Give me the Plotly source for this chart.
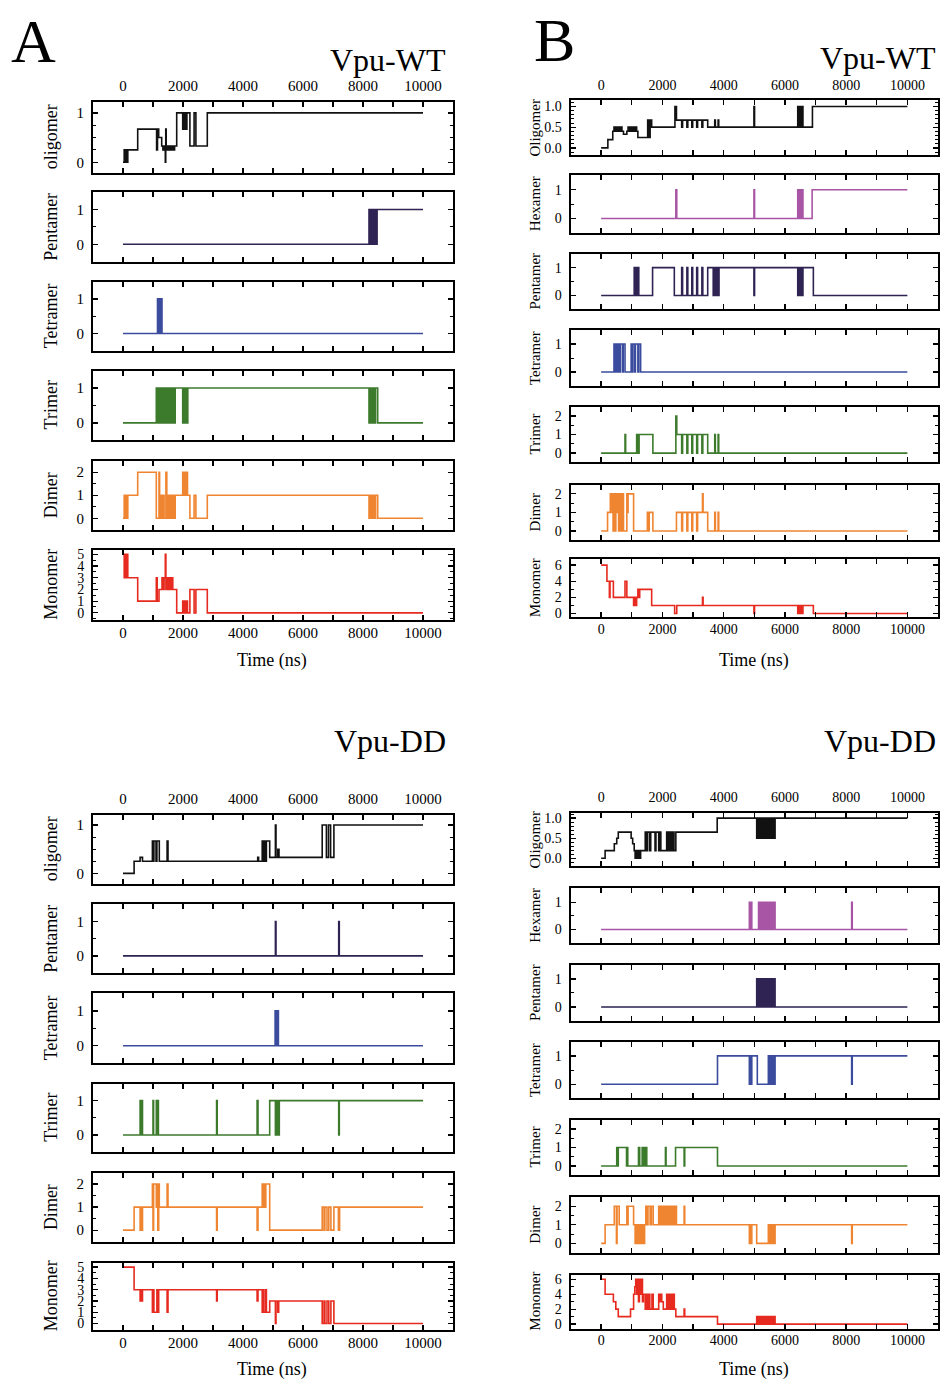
import plotly.graph_objects as go

W, H = 940, 1383
FONT = "Liberation Serif"

# ---------------- DATA (time in ns, step values) ----------------
# Panel A, Vpu-WT
A_WT_oligomer_t = [0, 40, 70, 100, 130, 160, 190, 490, 1120, 1150, 1190, 1290, 1330, 1360, 1410, 1425, 1440, 1480, 1520, 1560, 1600, 1640, 1680, 1720, 1790, 1990, 2010, 2030, 2050, 2070, 2090, 2110, 2130, 2230, 2370, 2430, 2810, 10000]
A_WT_oligomer_v = [0, 0.25, 0, 0.25, 0, 0.25, 0.25, 0.67, 0.25, 0.67, 0.5, 0.33, 0.25, 0.33, 0, 0.67, 0.25, 0.33, 0.25, 0.33, 0.25, 0.33, 0.25, 0.33, 1, 0.67, 1, 0.67, 1, 0.67, 1, 0.67, 1, 0.33, 1, 0.33, 1, 1]
A_WT_pentamer_t = [0, 8200, 8230, 8260, 8290, 8330, 8360, 8400, 8430, 8470, 10000]
A_WT_pentamer_v = [0, 1, 0, 1, 0, 1, 0, 1, 0, 1, 1]
A_WT_tetramer_t = [0, 1150, 1180, 1200, 1240, 1260, 1300, 10000]
A_WT_tetramer_v = [0, 1, 0, 1, 0, 1, 0, 0]
A_WT_trimer_t = [0, 1110, 1140, 1170, 1200, 1230, 1260, 1290, 1330, 1370, 1400, 1440, 1480, 1520, 1560, 1600, 1640, 1680, 1720, 1740, 1990, 2020, 2060, 2100, 2130, 2160, 8200, 8240, 8280, 8330, 8380, 8420, 8490, 10000]
A_WT_trimer_v = [0, 1, 0, 1, 0, 1, 0, 1, 0, 1, 0, 1, 0, 1, 0, 1, 0, 1, 0, 1, 0, 1, 0, 1, 0, 1, 0, 1, 0, 1, 0, 1, 0, 0]
A_WT_dimer_t = [0, 40, 70, 100, 130, 160, 190, 490, 1110, 1200, 1220, 1260, 1290, 1330, 1370, 1430, 1460, 1500, 1540, 1580, 1620, 1660, 1700, 1740, 1990, 2020, 2050, 2090, 2120, 2150, 2230, 2370, 2430, 2810, 8200, 8240, 8280, 8330, 8380, 8420, 8490, 10000]
A_WT_dimer_v = [0, 1, 0, 1, 0, 1, 1, 2, 0, 2, 0, 1, 0, 1, 0, 2, 0, 1, 0, 1, 0, 1, 0, 1, 2, 1, 2, 1, 2, 1, 0, 1, 0, 1, 0, 1, 0, 1, 0, 1, 0, 0]
A_WT_monomer_t = [0, 40, 70, 100, 130, 160, 190, 490, 1110, 1140, 1200, 1300, 1330, 1370, 1410, 1430, 1460, 1500, 1540, 1580, 1620, 1660, 1790, 1990, 2020, 2050, 2090, 2120, 2150, 2230, 2370, 2430, 2810, 10000]
A_WT_monomer_v = [5, 3, 5, 3, 5, 3, 3, 1, 3, 1, 2, 3, 2, 3, 5, 2, 3, 2, 3, 2, 3, 2, 0, 1, 0, 1, 0, 1, 0, 2, 0, 2, 0, 0]

# Panel A, Vpu-DD
A_DD_oligomer_t = [0, 370, 570, 650, 980, 1000, 1030, 1100, 1130, 1210, 1470, 1500, 4490, 4520, 4640, 4660, 4690, 4710, 4740, 4760, 4780, 4890, 5080, 5100, 5160, 5200, 6640, 6780, 6850, 6920, 7030, 10000]
A_DD_oligomer_v = [0, 0.25, 0.33, 0.25, 0.67, 0.25, 0.67, 0.25, 0.67, 0.25, 0.67, 0.25, 0.33, 0.25, 0.67, 0.25, 0.67, 0.25, 0.67, 0.25, 0.67, 0.33, 1, 0.33, 0.5, 0.33, 1, 0.33, 1, 0.33, 1, 1]
A_DD_pentamer_t = [0, 5080, 5100, 7190, 7210, 10000]
A_DD_pentamer_v = [0, 1, 0, 1, 0, 0]
A_DD_tetramer_t = [0, 5070, 5110, 5130, 5180, 10000]
A_DD_tetramer_v = [0, 1, 0, 1, 0, 0]
A_DD_trimer_t = [0, 570, 600, 620, 650, 1000, 1020, 1110, 1130, 1150, 1180, 3120, 3140, 4470, 4500, 4890, 5080, 5100, 5130, 5160, 5190, 5210, 7190, 7210, 10000]
A_DD_trimer_v = [0, 1, 0, 1, 0, 1, 0, 1, 0, 1, 0, 1, 0, 1, 0, 1, 0, 1, 0, 1, 0, 1, 0, 1, 1]
A_DD_dimer_t = [0, 370, 570, 590, 620, 650, 980, 1000, 1020, 1110, 1130, 1160, 1190, 1210, 1470, 1500, 3120, 3140, 4470, 4500, 4640, 4670, 4700, 4740, 4760, 4890, 6640, 6700, 6730, 6800, 6860, 6930, 7030, 7180, 7220, 10000]
A_DD_dimer_v = [0, 1, 0, 1, 0, 1, 2, 0, 2, 1, 2, 0, 2, 1, 2, 1, 0, 1, 0, 1, 2, 1, 2, 1, 2, 0, 1, 0, 1, 0, 1, 0, 1, 0, 1, 1]
A_DD_monomer_t = [0, 370, 570, 590, 620, 650, 980, 1010, 1030, 1130, 1160, 1190, 1470, 1500, 3120, 3140, 4470, 4500, 4640, 4670, 4700, 4760, 4780, 4890, 5080, 5100, 5160, 5190, 6640, 6700, 6730, 6800, 6860, 6930, 7030, 10000]
A_DD_monomer_v = [5, 3, 2, 3, 2, 3, 1, 3, 1, 3, 1, 3, 1, 3, 2, 3, 2, 3, 1, 3, 1, 3, 1, 2, 0, 2, 1, 2, 0, 2, 0, 2, 0, 2, 0, 0]

# Panel B, Vpu-WT
B_WT_oligomer_t = [0, 220, 380, 420, 450, 490, 520, 560, 600, 640, 680, 730, 840, 880, 920, 960, 1000, 1040, 1080, 1120, 1160, 1200, 1520, 1560, 1600, 1650, 2410, 2460, 2630, 2660, 2800, 2830, 2960, 2990, 3120, 3150, 3290, 3320, 3480, 3710, 3730, 3820, 3840, 4990, 5010, 6420, 6450, 6500, 6520, 6560, 6590, 6900, 10000]
B_WT_oligomer_v = [0, 0.2, 0.4, 0.5, 0.4, 0.5, 0.4, 0.5, 0.4, 0.5, 0.4, 0.33, 0.4, 0.5, 0.4, 0.5, 0.4, 0.5, 0.4, 0.5, 0.4, 0.25, 0.67, 0.25, 0.67, 0.5, 1, 0.67, 0.5, 0.67, 0.5, 0.67, 0.5, 0.67, 0.5, 0.67, 0.5, 0.67, 0.5, 0.67, 0.5, 0.67, 0.5, 1, 0.5, 1, 0.5, 1, 0.5, 1, 0.5, 1, 1]
B_WT_hexamer_t = [0, 2440, 2470, 4990, 5010, 6420, 6450, 6500, 6520, 6560, 6590, 6890, 10000]
B_WT_hexamer_v = [0, 1, 0, 1, 0, 1, 0, 1, 0, 1, 0, 1, 1]
B_WT_pentamer_t = [0, 1080, 1110, 1140, 1180, 1200, 1230, 1680, 2390, 2630, 2660, 2800, 2830, 2960, 2990, 3120, 3150, 3290, 3320, 3480, 3660, 3690, 3740, 3770, 3820, 3850, 4990, 5010, 6420, 6450, 6500, 6520, 6560, 6590, 6930, 10000]
B_WT_pentamer_v = [0, 1, 0, 1, 0, 1, 0, 1, 0, 1, 0, 1, 0, 1, 0, 1, 0, 1, 0, 1, 0, 1, 0, 1, 0, 1, 0, 1, 0, 1, 0, 1, 0, 1, 0, 0]
B_WT_tetramer_t = [0, 420, 450, 480, 520, 550, 600, 630, 700, 720, 780, 980, 1020, 1040, 1100, 1120, 1200, 1230, 1290, 10000]
B_WT_tetramer_v = [0, 1, 0, 1, 0, 1, 0, 1, 0, 1, 0, 1, 0, 1, 0, 1, 0, 1, 0, 0]
B_WT_trimer_t = [0, 780, 800, 1160, 1180, 1200, 1220, 1240, 1690, 2440, 2470, 2630, 2660, 2800, 2830, 2960, 2990, 3120, 3150, 3290, 3320, 3480, 3710, 3730, 3820, 3840, 10000]
B_WT_trimer_v = [0, 1, 0, 1, 0, 1, 0, 1, 0, 2, 1, 0, 1, 0, 1, 0, 1, 0, 1, 0, 1, 0, 1, 0, 1, 0, 0]
B_WT_dimer_t = [0, 210, 300, 330, 360, 390, 420, 450, 480, 510, 540, 570, 600, 640, 680, 730, 840, 860, 880, 1060, 1510, 1540, 1570, 1690, 2460, 2630, 2660, 2800, 2830, 2960, 2990, 3120, 3150, 3310, 3330, 3480, 3710, 3730, 3820, 3840, 10000]
B_WT_dimer_v = [0, 1, 2, 1, 2, 0, 2, 0, 2, 1, 2, 0, 2, 0, 2, 0, 2, 1, 2, 0, 1, 0, 1, 0, 1, 0, 1, 0, 1, 0, 1, 0, 1, 2, 1, 0, 1, 0, 1, 0, 0]
B_WT_monomer_t = [0, 190, 270, 290, 400, 780, 840, 1060, 1100, 1120, 1160, 1200, 1220, 1260, 1650, 2400, 2470, 3310, 3330, 4990, 5010, 6420, 6450, 6500, 6520, 6560, 6590, 6930, 10000]
B_WT_monomer_v = [6, 4, 2, 4, 2, 4, 2, 1, 2, 1, 2, 3, 2, 3, 1, 0, 1, 2, 1, 0, 1, 0, 1, 0, 1, 0, 1, 0, 0]

# Panel B, Vpu-DD
B_DD_oligomer_t = [0, 130, 430, 510, 560, 980, 1030, 1080, 1110, 1150, 1180, 1220, 1250, 1290, 1440, 1480, 1520, 1590, 1620, 1760, 1790, 1880, 1910, 1950, 2140, 2170, 2200, 2250, 2290, 2330, 2360, 2380, 2440, 3790, 5080, 5110, 5130, 5160, 5180, 5210, 5230, 5260, 5280, 5310, 5330, 5360, 5380, 5410, 5430, 5460, 5500, 5530, 5550, 5580, 5600, 5630, 5650, 5680, 10000]
B_DD_oligomer_v = [0, 0.19, 0.36, 0.5, 0.65, 0.5, 0.36, 0.19, 0, 0.19, 0, 0.19, 0, 0.19, 0.65, 0.19, 0.65, 0.19, 0.65, 0.19, 0.65, 0.19, 0.65, 0.19, 0.65, 0.19, 0.65, 0.19, 0.65, 0.19, 0.65, 0.19, 0.65, 1, 0.5, 1, 0.5, 1, 0.5, 1, 0.5, 1, 0.5, 1, 0.5, 1, 0.5, 1, 0.5, 1, 0.5, 1, 0.5, 1, 0.5, 1, 0.5, 1, 1]
B_DD_hexamer_t = [0, 4840, 4860, 4900, 4920, 5140, 5170, 5190, 5220, 5240, 5270, 5290, 5320, 5340, 5370, 5390, 5420, 5440, 5470, 5490, 5520, 5540, 5570, 5590, 5620, 5640, 5680, 8180, 8200, 10000]
B_DD_hexamer_v = [0, 1, 0, 1, 0, 1, 0, 1, 0, 1, 0, 1, 0, 1, 0, 1, 0, 1, 0, 1, 0, 1, 0, 1, 0, 1, 0, 1, 0, 0]
B_DD_pentamer_t = [0, 5080, 5110, 5130, 5160, 5180, 5210, 5230, 5260, 5280, 5310, 5330, 5360, 5380, 5410, 5430, 5460, 5500, 5530, 5550, 5580, 5600, 5630, 5650, 5680, 10000]
B_DD_pentamer_v = [0, 1, 0, 1, 0, 1, 0, 1, 0, 1, 0, 1, 0, 1, 0, 1, 0, 1, 0, 1, 0, 1, 0, 1, 0, 0]
B_DD_tetramer_t = [0, 3800, 4840, 4860, 4900, 4920, 5100, 5460, 5480, 5500, 5520, 5560, 5580, 5610, 5640, 5680, 8180, 8200, 10000]
B_DD_tetramer_v = [0, 1, 0, 1, 0, 1, 0, 1, 0, 1, 0, 1, 0, 1, 0, 1, 0, 1, 1]
B_DD_trimer_t = [0, 510, 530, 560, 830, 850, 870, 1220, 1260, 1340, 1370, 1400, 1420, 1450, 1490, 2100, 2120, 2430, 2710, 2730, 3800, 10000]
B_DD_trimer_v = [0, 1, 0, 1, 0, 1, 0, 1, 0, 1, 0, 1, 0, 1, 0, 1, 0, 1, 0, 1, 0, 0]
B_DD_dimer_t = [0, 130, 430, 500, 520, 590, 840, 860, 880, 1060, 1110, 1140, 1170, 1210, 1240, 1280, 1310, 1350, 1380, 1420, 1460, 1500, 1530, 1600, 1640, 1700, 1880, 1910, 1930, 1960, 1990, 2030, 2060, 2100, 2140, 2170, 2200, 2240, 2270, 2310, 2340, 2380, 2410, 2460, 2710, 2730, 4840, 4860, 4900, 4920, 5080, 5460, 5480, 5510, 5530, 5560, 5590, 5620, 5650, 5680, 8180, 8200, 10000]
B_DD_dimer_v = [0, 1, 2, 0, 2, 1, 2, 1, 2, 1, 0, 1, 0, 1, 0, 1, 0, 1, 0, 1, 2, 1, 2, 1, 2, 1, 2, 1, 2, 1, 2, 1, 2, 1, 2, 1, 2, 1, 2, 1, 2, 1, 2, 1, 2, 1, 0, 1, 0, 1, 0, 1, 0, 1, 0, 1, 0, 1, 0, 1, 0, 1, 1]
B_DD_monomer_t = [0, 130, 400, 480, 560, 960, 1060, 1100, 1130, 1160, 1190, 1220, 1250, 1280, 1320, 1350, 1380, 1440, 1480, 1510, 1550, 1590, 1660, 1700, 1880, 1910, 1940, 1980, 2030, 2140, 2170, 2200, 2250, 2290, 2330, 2360, 2390, 2440, 2710, 2730, 3800, 5080, 5110, 5130, 5160, 5180, 5210, 5230, 5260, 5280, 5310, 5330, 5360, 5380, 5410, 5430, 5460, 5500, 5530, 5550, 5580, 5600, 5630, 5650, 5680, 10000]
B_DD_monomer_v = [6, 4, 3, 2, 1, 2, 4, 5, 6, 4, 6, 3, 6, 4, 6, 3, 4, 2, 4, 2, 4, 2, 4, 2, 4, 3, 4, 3, 2, 4, 2, 4, 2, 4, 2, 4, 2, 1, 2, 1, 0, 1, 0, 1, 0, 1, 0, 1, 0, 1, 0, 1, 0, 1, 0, 1, 0, 1, 0, 1, 0, 1, 0, 1, 0, 0]

# Tick labels
X_TICKVALS = [0, 1000, 2000, 3000, 4000, 5000, 6000, 7000, 8000, 9000, 10000]
X_TICKTEXT = ["0", "", "2000", "", "4000", "", "6000", "", "8000", "", "10000"]
A_OLIG_TICKS = [0, 1]
B_OLIG_TICKS = [0, 0.5, 1.0]
B_OLIG_TEXT = ["0.0", "0.5", "1.0"]
BIN_TICKS = [0, 1]
TRI_TICKS = [0, 1, 2]
A_MONO_TICKS = [0, 1, 2, 3, 4, 5]
B_MONO_TICKS = [0, 2, 4, 6]

# ---------------- STYLE ----------------
C_BLACK = "#111111"
C_HEX = "#a855a6"
C_PENT = "#2e2352"
C_TET = "#3b4c9e"
C_TRI = "#3c7a2c"
C_DIM = "#f08531"
C_MON = "#e62a1f"


def px(x):
    return x / W


def py(y):
    return 1 - y / H


def ycfg(rng, ticks, text=None, minor=0.5, font=None):
    return dict(range=rng, tickvals=ticks, ticktext=text if text else [str(t) for t in ticks], minor=minor, font=font)


panels = [
    dict(x0=93, x1=453, tick_font=15, title_font=18, ytitle_x=51,
         rows=[(99.5, 170.5), (190, 260), (280, 349.5), (369.5, 439.5), (460, 529.5), (549.5, 620)],
         series=[
             ("oligomer", C_BLACK, A_WT_oligomer_t, A_WT_oligomer_v, ycfg([-0.21, 1.22], A_OLIG_TICKS, minor=0.25)),
             ("Pentamer", C_PENT, A_WT_pentamer_t, A_WT_pentamer_v, ycfg([-0.5, 1.5], BIN_TICKS)),
             ("Tetramer", C_TET, A_WT_tetramer_t, A_WT_tetramer_v, ycfg([-0.5, 1.5], BIN_TICKS)),
             ("Trimer", C_TRI, A_WT_trimer_t, A_WT_trimer_v, ycfg([-0.5, 1.5], BIN_TICKS)),
             ("Dimer", C_DIM, A_WT_dimer_t, A_WT_dimer_v, ycfg([-0.5, 2.5], TRI_TICKS)),
             ("Monomer", C_MON, A_WT_monomer_t, A_WT_monomer_v, ycfg([-0.6, 5.4], A_MONO_TICKS, font=14)),
         ]),
    dict(x0=570.5, x1=938, tick_font=14, title_font=15, ytitle_x=535,
         rows=[(97.7, 152.7), (173.3, 231), (252, 308), (328.7, 385), (405.7, 461.7), (484, 540), (559.3, 617.3)],
         series=[
             ("Oligomer", C_BLACK, B_WT_oligomer_t, B_WT_oligomer_v, ycfg([-0.17, 1.15], B_OLIG_TICKS, B_OLIG_TEXT, minor=0.1)),
             ("Hexamer", C_HEX, B_WT_hexamer_t, B_WT_hexamer_v, ycfg([-0.5, 1.5], BIN_TICKS)),
             ("Pentamer", C_PENT, B_WT_pentamer_t, B_WT_pentamer_v, ycfg([-0.5, 1.5], BIN_TICKS)),
             ("Tetramer", C_TET, B_WT_tetramer_t, B_WT_tetramer_v, ycfg([-0.5, 1.5], BIN_TICKS)),
             ("Trimer", C_TRI, B_WT_trimer_t, B_WT_trimer_v, ycfg([-0.5, 2.5], TRI_TICKS)),
             ("Dimer", C_DIM, B_WT_dimer_t, B_WT_dimer_v, ycfg([-0.5, 2.5], TRI_TICKS)),
             ("Monomer", C_MON, B_WT_monomer_t, B_WT_monomer_v, ycfg([-0.45, 6.7], B_MONO_TICKS, minor=1)),
         ]),
    dict(x0=93, x1=453, tick_font=15, title_font=18, ytitle_x=51,
         rows=[(816, 885), (906, 975), (995.5, 1065.5), (1086, 1155), (1175.5, 1245), (1266, 1333.5)],
         series=[
             ("oligomer", C_BLACK, A_DD_oligomer_t, A_DD_oligomer_v, ycfg([-0.21, 1.21], A_OLIG_TICKS, minor=0.25)),
             ("Pentamer", C_PENT, A_DD_pentamer_t, A_DD_pentamer_v, ycfg([-0.5, 1.5], BIN_TICKS)),
             ("Tetramer", C_TET, A_DD_tetramer_t, A_DD_tetramer_v, ycfg([-0.5, 1.5], BIN_TICKS)),
             ("Trimer", C_TRI, A_DD_trimer_t, A_DD_trimer_v, ycfg([-0.5, 1.5], BIN_TICKS)),
             ("Dimer", C_DIM, A_DD_dimer_t, A_DD_dimer_v, ycfg([-0.5, 2.5], TRI_TICKS)),
             ("Monomer", C_MON, A_DD_monomer_t, A_DD_monomer_v, ycfg([-0.55, 5.4], A_MONO_TICKS, font=14)),
         ]),
    dict(x0=570.5, x1=938, tick_font=14, title_font=15, ytitle_x=535,
         rows=[(814, 867.7), (890, 945), (966.7, 1023.3), (1044, 1101), (1122.3, 1178.3), (1200, 1256), (1278.3, 1332.3)],
         series=[
             ("Oligomer", C_BLACK, B_DD_oligomer_t, B_DD_oligomer_v, ycfg([-0.2, 1.13], B_OLIG_TICKS, B_OLIG_TEXT, minor=0.1)),
             ("Hexamer", C_HEX, B_DD_hexamer_t, B_DD_hexamer_v, ycfg([-0.5, 1.5], BIN_TICKS)),
             ("Pentamer", C_PENT, B_DD_pentamer_t, B_DD_pentamer_v, ycfg([-0.5, 1.5], BIN_TICKS)),
             ("Tetramer", C_TET, B_DD_tetramer_t, B_DD_tetramer_v, ycfg([-0.5, 1.5], BIN_TICKS)),
             ("Trimer", C_TRI, B_DD_trimer_t, B_DD_trimer_v, ycfg([-0.5, 2.5], TRI_TICKS)),
             ("Dimer", C_DIM, B_DD_dimer_t, B_DD_dimer_v, ycfg([-0.5, 2.5], TRI_TICKS)),
             ("Monomer", C_MON, B_DD_monomer_t, B_DD_monomer_v, ycfg([-0.6, 6.6], B_MONO_TICKS, minor=1)),
         ]),
]

fig = go.Figure()
layout = {}
annotations = []
idx = 0
for p in panels:
    n = len(p["series"])
    for r, (label, color, tv, vv, yc) in enumerate(p["series"]):
        idx += 1
        xs = "x" if idx == 1 else f"x{idx}"
        ys = "y" if idx == 1 else f"y{idx}"
        xk = "xaxis" if idx == 1 else f"xaxis{idx}"
        yk = "yaxis" if idx == 1 else f"yaxis{idx}"
        top, bot = p["rows"][r]
        fig.add_trace(go.Scatter(x=tv, y=vv, mode="lines", line=dict(color=color, width=1.6, shape="hv"),
                                 xaxis=xs, yaxis=ys, showlegend=False, hoverinfo="skip"))
        first = (r == 0)
        last = (r == n - 1)
        layout[xk] = dict(
            domain=[px(p["x0"]), px(p["x1"])], anchor=ys, range=[-1000, 11000],
            tickmode="array", tickvals=X_TICKVALS, ticktext=X_TICKTEXT,
            ticks="inside", ticklen=5, tickwidth=1.3, tickcolor="black",
            mirror="allticks", showline=True, linecolor="black", linewidth=2,
            showgrid=False, zeroline=False,
            showticklabels=first or last, side="top" if first else "bottom",
            ticklabelstandoff=3 if first else -2,
            tickfont=dict(family=FONT, size=p["tick_font"], color="black"),
            fixedrange=True,
        )
        layout[yk] = dict(
            domain=[py(bot), py(top)], anchor=xs, range=yc["range"],
            tickmode="array", tickvals=yc["tickvals"], ticktext=yc["ticktext"],
            ticks="inside", ticklen=5, tickwidth=1.3, tickcolor="black",
            minor=dict(ticks="inside", dtick=yc["minor"], tick0=0, ticklen=3, tickwidth=1, tickcolor="black", showgrid=False),
            mirror="allticks", showline=True, linecolor="black", linewidth=2,
            showgrid=False, zeroline=False,
            ticklabelstandoff=4,
            tickfont=dict(family=FONT, size=yc["font"] or p["tick_font"], color="black"),
            fixedrange=True,
        )
        annotations.append(dict(text=label, x=px(p["ytitle_x"]), y=py((top + bot) / 2),
                                xref="paper", yref="paper", xanchor="center", yanchor="middle",
                                textangle=-90, showarrow=False,
                                font=dict(family=FONT, size=p["title_font"], color="black")))


def ann(text, x, y, size, xanchor="center"):
    annotations.append(dict(text=text, x=px(x), y=py(y), xref="paper", yref="paper",
                            xanchor=xanchor, yanchor="middle", showarrow=False,
                            font=dict(family=FONT, size=size, color="black")))


ann("A", 33, 38, 62)
ann("B", 554, 37, 62)
ann("Vpu-WT", 448, 57, 32, "right")
ann("Vpu-WT", 938, 55, 32, "right")
ann("Vpu-DD", 448, 742, 32, "right")
ann("Vpu-DD", 938, 742, 32, "right")
ann("Time (ns)", 272, 661, 18)
ann("Time (ns)", 754, 661, 18)
ann("Time (ns)", 272, 1373, 18)
ann("Time (ns)", 754, 1373, 18)

layout.update(dict(width=W, height=H, margin=dict(l=0, r=0, t=0, b=0),
                   paper_bgcolor="white", plot_bgcolor="white",
                   annotations=annotations, font=dict(family=FONT)))
fig.update_layout(**layout)
fig.write_html(
    "out.html",
    config={"displayModeBar": False, "staticPlot": True},
    post_script="document.body.style.margin='0px';document.body.style.padding='0px';document.body.style.overflow='hidden';",
)
